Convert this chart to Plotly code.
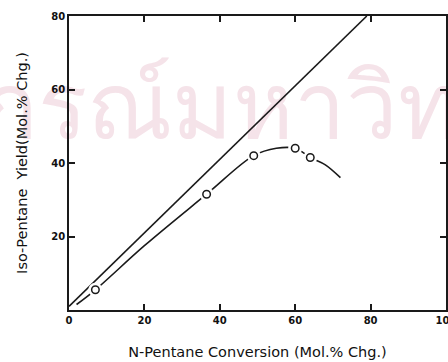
import plotly.graph_objects as go

# Data
ideal_x = [0, 79]
ideal_y = [1, 80]

curve_x = [2, 7, 20, 36.5, 49, 55, 60, 64, 68, 72]
curve_y = [1.5, 5.5, 17.5, 31.5, 42, 44, 44, 41.5, 39.5, 36]

point_x = [7, 36.5, 49, 60, 64]
point_y = [5.5, 31.5, 42, 44, 41.5]

x_ticks = [0, 20, 40, 60, 80, 100]
y_ticks = [20, 40, 60, 80]

watermark = "จุฬาลงกรณ์มหาวิทยาลัย"

fig = go.Figure()

fig.add_trace(go.Scatter(x=[33], y=[53], mode="text", text=[watermark], cliponaxis=False,
                         textposition="middle center",
                         textfont=dict(size=92, color="#f5e3e9"),
                         showlegend=False, hoverinfo="skip"))
fig.add_trace(go.Scatter(x=ideal_x, y=ideal_y, mode="lines",
                         line=dict(color="#1a1a1a", width=1.6), showlegend=False))
fig.add_trace(go.Scatter(x=curve_x, y=curve_y, mode="lines", line_shape="spline",
                         line=dict(color="#1a1a1a", width=1.6), showlegend=False))
# white halo that opens the small gaps in the curve around each point
fig.add_trace(go.Scatter(x=point_x, y=point_y, mode="markers",
                         marker=dict(symbol="circle", size=14, color="white",
                                     line=dict(width=0)),
                         showlegend=False, hoverinfo="skip"))
fig.add_trace(go.Scatter(x=point_x, y=point_y, mode="markers",
                         marker=dict(symbol="circle", size=7.5, color="white",
                                     line=dict(color="#1a1a1a", width=1.5)),
                         showlegend=False))

axis_font = dict(family="DejaVu Sans", size=10, color="#111", weight="bold")
title_font = dict(family="DejaVu Sans", size=14.5, color="#111")
fig.update_layout(
    width=448, height=362,
    margin=dict(l=69, r=2, t=16, b=52),
    paper_bgcolor="white", plot_bgcolor="rgba(0,0,0,0)",
    xaxis=dict(range=[0, 100], tickvals=x_ticks, ticks="inside", ticklen=6,
               tickwidth=1.5, tickcolor="#1a1a1a", showline=True, linecolor="#1a1a1a",
               linewidth=1.8, mirror="ticks", showgrid=False, zeroline=False,
               tickfont=axis_font, ticklabeloverflow="allow", automargin=False,
               title=dict(text="N-Pentane Conversion (Mol.% Chg.)",
                          font=title_font, standoff=22)),
    yaxis=dict(range=[0, 80], tickvals=y_ticks, ticks="inside", ticklen=6,
               tickwidth=1.5, tickcolor="#1a1a1a", showline=True, linecolor="#1a1a1a",
               linewidth=1.8, mirror="ticks", showgrid=False, zeroline=False,
               tickfont=axis_font, ticklabeloverflow="allow", automargin=False,
               title=dict(text="Iso-Pentane\u00a0\u00a0Yield(Mol.% Chg.)",
                          font=title_font, standoff=20)),
)

fig.write_html("out.html")
